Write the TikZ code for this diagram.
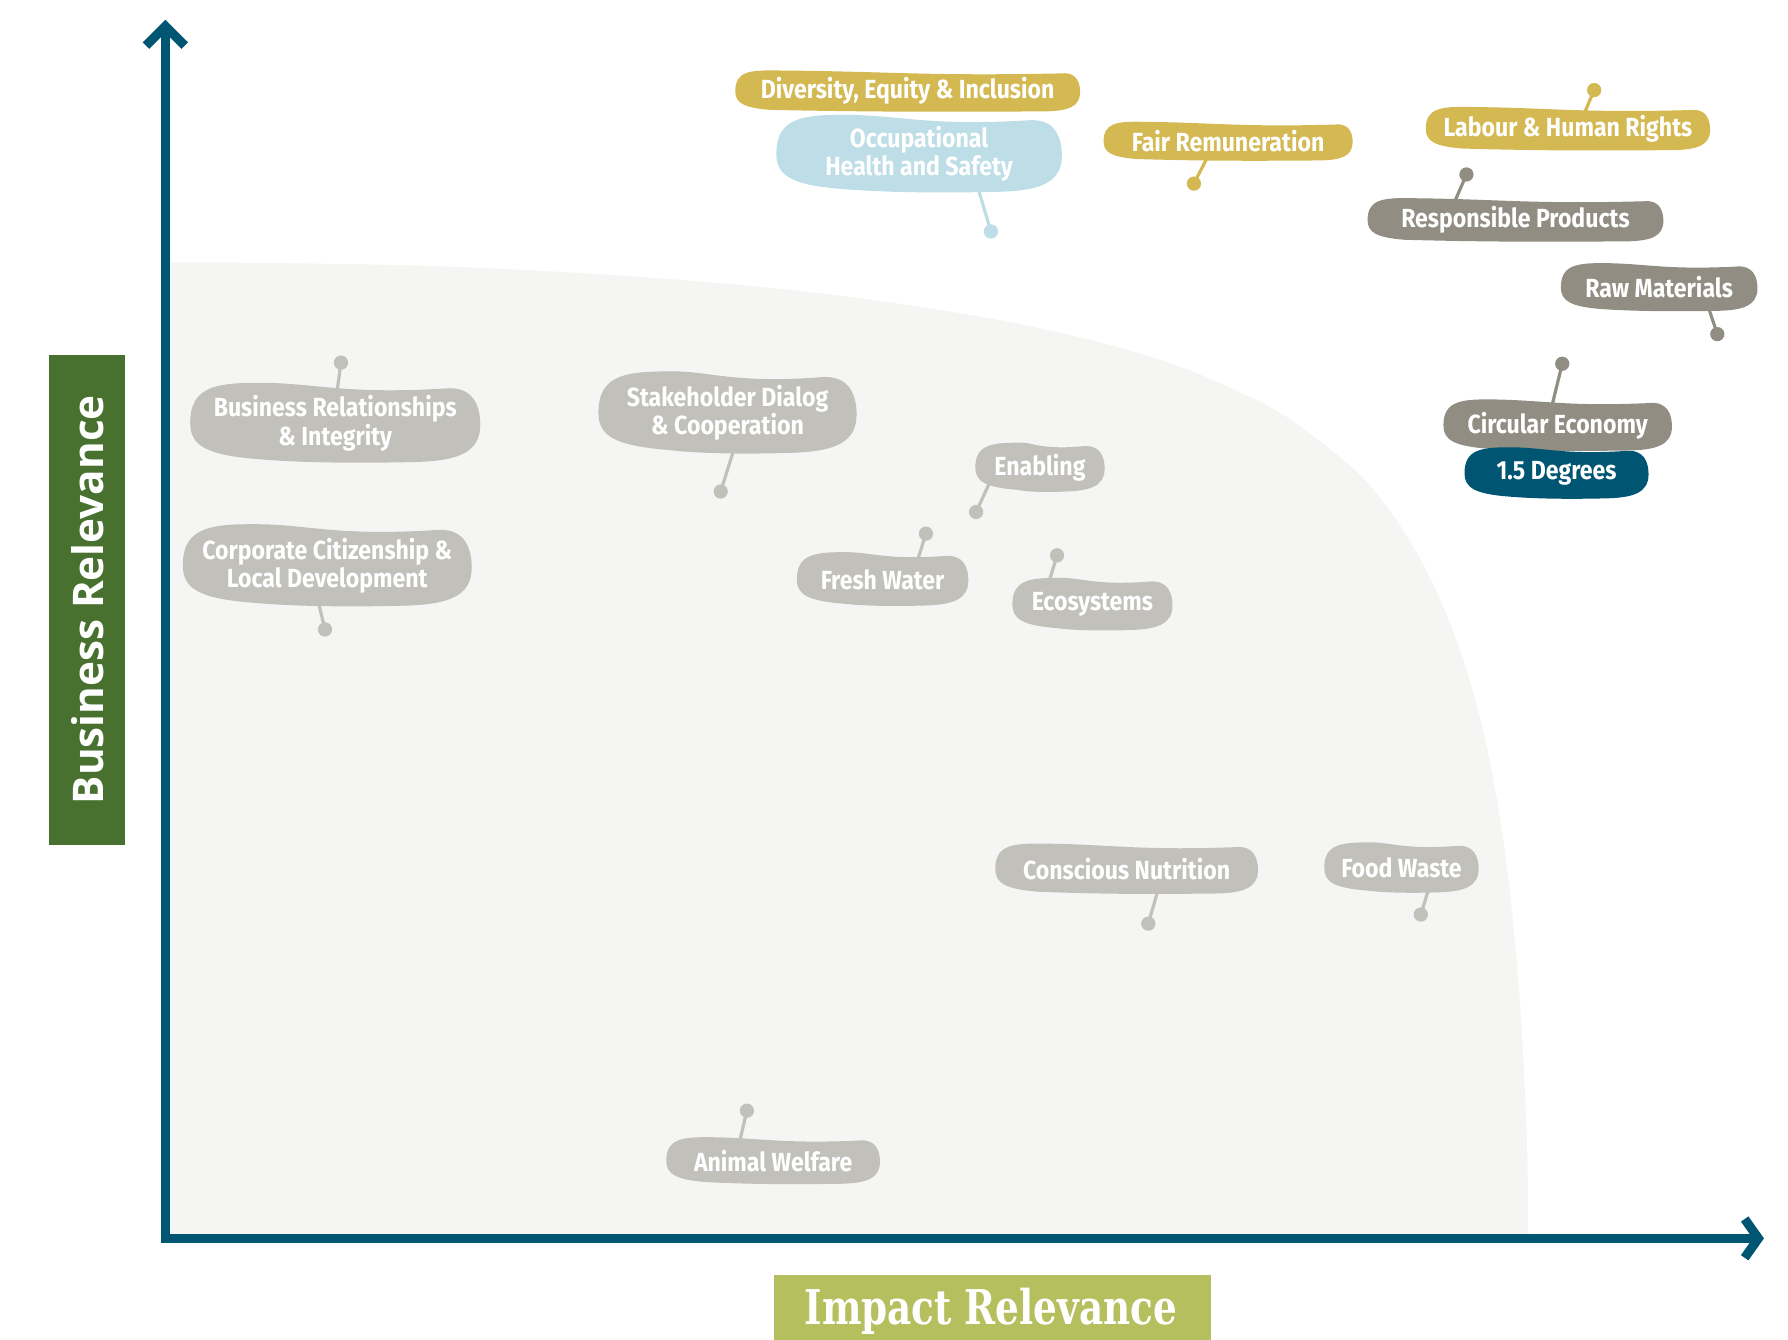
\documentclass[tikz,border=0pt]{standalone}
\usepackage{fontspec}
\usetikzlibrary{calc}
\newfontfamily\tagfont{Fira Sans}[FakeStretch=0.88]
\newfontfamily\ylabfont{Open Sans}
\newfontfamily\xlabfont{DejaVu Serif}[FakeStretch=0.78]

\definecolor{axisblue}{RGB}{0,85,115}
\definecolor{gold}{RGB}{212,185,82}
\definecolor{skyblue}{RGB}{189,221,231}
\definecolor{stone}{RGB}{145,141,130}
\definecolor{pebble}{RGB}{193,192,186}
\definecolor{fieldgray}{RGB}{245,245,243}
\definecolor{leafgreen}{RGB}{72,113,48}
\definecolor{olivegreen}{RGB}{181,191,94}

\pgfdeclarelayer{back}
\pgfdeclarelayer{links}
\pgfdeclarelayer{blobs}
\pgfsetlayers{back,links,blobs,main}

% irregular bubble filling the bounding box of a node
\newcommand\blobfill[2]{%
\begin{pgfonlayer}{blobs}
\fill[#2] let \p1=(#1.south west), \p2=(#1.north east), \n1={\y2-\y1}, \n2={\x2-\x1} in
 (\x1,{\y1+0.5*\n1})
 .. controls (\x1,{\y1+0.98*\n1}) and ({\x1+0.35*\n1},{\y2+0.01*\n1}) .. ({\x1+1.0*\n1},\y2)
 .. controls ({\x1+0.45*\n2},{\y2-0.02*\n1}) and ({\x1+0.55*\n2},{\y2-0.14*\n1}) .. ({\x2-0.45*\n1},{\y2-0.07*\n1})
 .. controls ({\x2-0.08*\n1},{\y2-0.03*\n1}) and (\x2,{\y2-0.3*\n1}) .. (\x2,{\y1+0.48*\n1})
 .. controls (\x2,{\y1+0.12*\n1}) and ({\x2-0.3*\n1},{\y1+0.03*\n1}) .. ({\x2-0.8*\n1},{\y1+0.015*\n1})
 .. controls ({\x1+0.6*\n2},\y1) and ({\x1+0.4*\n2},\y1) .. ({\x1+0.85*\n1},{\y1+0.05*\n1})
 .. controls ({\x1+0.2*\n1},{\y1+0.1*\n1}) and (\x1,{\y1+0.22*\n1}) .. cycle;
\end{pgfonlayer}}

% pin: dot node plus a stem running into the bubble
\newcommand\pin[4]{% name, colour, dot position, inner point
\node[pindot=#2] (#1-d) at #3 {};
\coordinate (#1-i) at #4;
\begin{pgfonlayer}{links}
\draw[stem=#2] (#1-d.center) -- (#1-i);
\end{pgfonlayer}}

\tikzset{
  tag/.style={text=white, font=\tagfont\bfseries\fontsize{23}{25}\selectfont,
    align=center, inner sep=0pt},
  pindot/.style={circle, inner sep=0pt, minimum size=12.5pt, fill=#1},
  stem/.style={line width=2.8pt, draw=#1},
  axisline/.style={line width=8pt, draw=axisblue},
  chevron/.style={line width=8pt, draw=axisblue, miter limit=10},
}

\begin{document}
\begin{tikzpicture}[x=1pt,y=-1pt]
\useasboundingbox (0,0) rectangle (1568,1175);

% light field of the chart
\begin{pgfonlayer}{back}
\fill[fieldgray] (149,1082) -- (149,230)
  -- plot[smooth, tension=0.6] coordinates {(149,230) (400,234) (650,250) (850,276) (1000,310)
   (1100,350) (1155,385) (1205,430) (1248,495) (1282,575) (1306,665) (1322,765)
   (1333,880) (1339,1000) (1340,1082)} -- cycle;
\end{pgfonlayer}

% axes
\draw[axisline] (145,1086) -- (145,24);
\draw[chevron] (128,40) -- (145,23) -- (162,40);
\draw[axisline] (141,1086) -- (1540,1086);
\draw[chevron] (1530,1069) -- (1542,1086) -- (1530,1103);

% axis captions
\node[fill=leafgreen, minimum width=67pt, minimum height=430pt, inner sep=0pt] (ylab) at (76.5,526) {};
\node[rotate=90, text=white, font=\ylabfont\bfseries\fontsize{37}{39}\selectfont] (ylabtext) at (ylab.center) {Business Relevance};
\node[fill=olivegreen, minimum width=383pt, minimum height=60pt, inner sep=0pt] (xlab) at (870.5,1148) {};
\node[text=white, font=\xlabfont\bfseries\fontsize{42}{44}\selectfont] (xlabtext) at (869,1150) {Impact Relevance};

% bubbles
\node[tag, minimum width=302pt, minimum height=36pt] (dei) at (796,80) {Diversity, Equity \& Inclusion};
\blobfill{dei}{gold}
\node[tag, minimum width=250pt, minimum height=68pt] (ohs) at (806,135) {Occupational\\Health and Safety};
\blobfill{ohs}{skyblue}
\pin{ohs}{skyblue}{(869,203)}{(852,146)}

\node[tag, minimum width=218pt, minimum height=34pt] (fair) at (1077,124) {Fair Remuneration};
\blobfill{fair}{gold}
\pin{fair}{gold}{(1047,161)}{(1065,126)}

\node[tag, minimum width=249pt, minimum height=38pt] (lab) at (1375,113) {Labour \& Human Rights};
\blobfill{lab}{gold}
\pin{lab}{gold}{(1398,79)}{(1384,112)}

\node[tag, minimum width=259pt, minimum height=38pt] (resp) at (1329,193) {Responsible Products};
\blobfill{resp}{stone}
\pin{resp}{stone}{(1286,153)}{(1270,190)}

\node[tag, minimum width=172pt, minimum height=42pt] (raw) at (1455,252) {Raw Materials};
\blobfill{raw}{stone}
\pin{raw}{stone}{(1506,293)}{(1494,257)}

\node[tag, minimum width=200pt, minimum height=45pt] (circ) at (1366,373) {Circular Economy};
\blobfill{circ}{stone}
\pin{circ}{stone}{(1370,319)}{(1358,368)}

\node[tag, minimum width=161pt, minimum height=45pt] (deg) at (1365,415) {1.5 Degrees};
\blobfill{deg}{axisblue}

\node[tag, minimum width=254pt, minimum height=70pt] (bus) at (294,371) {Business Relationships\\\& Integrity};
\blobfill{bus}{pebble}
\pin{bus}{pebble}{(299,318)}{(294,355)}

\node[tag, minimum width=226pt, minimum height=72pt] (stake) at (638,362) {Stakeholder Dialog\\\& Cooperation};
\blobfill{stake}{pebble}
\pin{stake}{pebble}{(632,431)}{(648,380)}

\node[tag, minimum width=253pt, minimum height=72pt] (corp) at (287,496) {Corporate Citizenship \&\\Local Development};
\blobfill{corp}{pebble}
\pin{corp}{pebble}{(285,552)}{(276,515)}

\node[tag, minimum width=113pt, minimum height=43pt] (enab) at (912,410) {Enabling};
\blobfill{enab}{pebble}
\pin{enab}{pebble}{(856,449)}{(873,412)}

\node[tag, minimum width=150pt, minimum height=47pt] (fresh) at (774,508) {Fresh Water};
\blobfill{fresh}{pebble}
\pin{fresh}{pebble}{(812,468)}{(801,503)}

\node[tag, minimum width=140pt, minimum height=46pt] (eco) at (958,530) {Ecosystems};
\blobfill{eco}{pebble}
\pin{eco}{pebble}{(927,487)}{(917,520)}

\node[tag, minimum width=230pt, minimum height=44pt] (cons) at (988,762) {Conscious Nutrition};
\blobfill{cons}{pebble}
\pin{cons}{pebble}{(1007,810)}{(1020,765)}

\node[tag, minimum width=135pt, minimum height=44pt] (food) at (1229,761) {Food Waste};
\blobfill{food}{pebble}
\pin{food}{pebble}{(1246,802)}{(1257,766)}

\node[tag, minimum width=187pt, minimum height=41pt] (anim) at (678,1018) {Animal Welfare};
\blobfill{anim}{pebble}
\pin{anim}{pebble}{(655,974)}{(646,1012)}

\end{tikzpicture}
\end{document}
